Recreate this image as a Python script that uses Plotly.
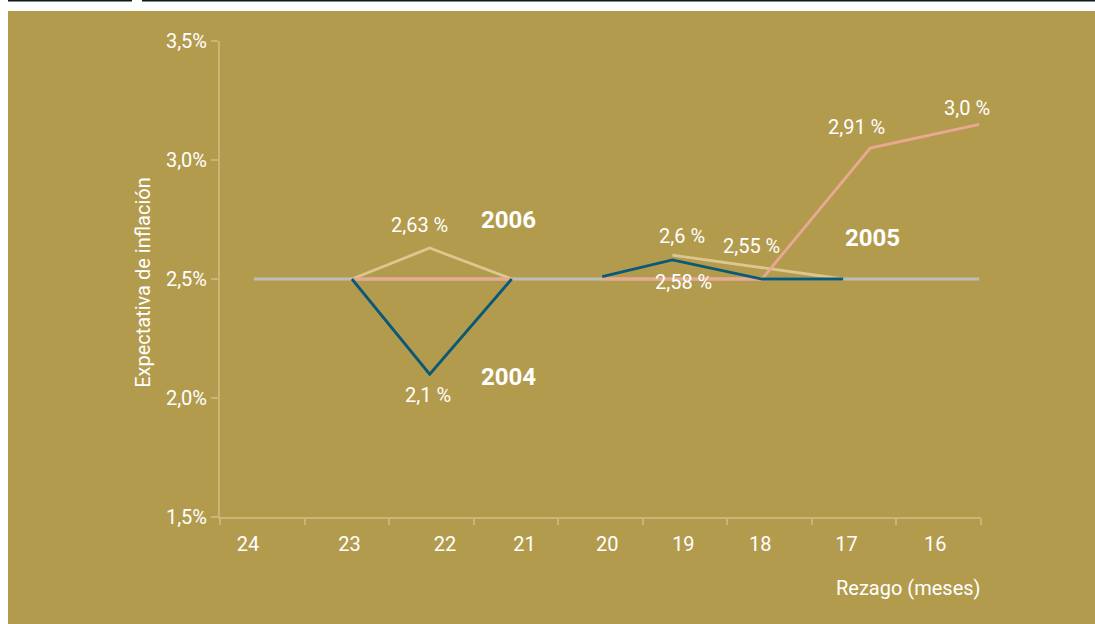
import plotly.graph_objects as go

# ---- data ----
# x = lag in months (axis reversed, 24 on the left), y = inflation expectation (%)
base_x = [24.1, 15.52]
base_y = [2.5, 2.5]

s2006_x = [22.94, 22.02, 21.05, None, 19.15, 17.13]
s2006_y = [2.5, 2.63, 2.5, None, 2.6, 2.5]

s2005_x = [22.94, 21.05, None, 19.98, 18.09, 16.81, 15.52]
s2005_y = [2.5, 2.5, None, 2.5, 2.5, 3.05, 3.15]

s2004_x = [22.94, 22.02, 21.05, None, 19.98, 19.15, 18.09, 17.13]
s2004_y = [2.5, 2.1, 2.5, None, 2.51, 2.58, 2.5, 2.5]

x_tick_labels = ["24", "23", "22", "21", "20", "19", "18", "17", "16"]
x_tick_pos = [24.17, 22.97, 21.84, 20.9, 19.92, 19.02, 18.11, 17.09, 16.04]
x_minor_ticks = [24.5, 23.5, 22.5, 21.5, 20.5, 19.5, 18.5, 17.5, 16.5, 15.5]
y_ticks = [1.5, 2.0, 2.5, 3.0, 3.5]
y_tick_labels = ["1,5%", "2,0%", "2,5%", "3,0%", "3,5%"]

value_labels = ["2,63 %", "2,1 %", "2,6 %", "2,55 %", "2,58 %", "2,91 %", "3,0 %"]
value_label_x = [22.135, 22.04, 19.04, 18.21, 19.02, 16.97, 15.67]
value_label_y = [2.727, 2.013, 2.68, 2.639, 2.487, 3.139, 3.218]

year_labels = ["2006", "2004", "2005"]
year_label_x = [21.09, 21.09, 16.78]
year_label_y = [2.748, 2.088, 2.672]

# ---- styles ----
BG = "#B39B4E"
AXIS = "#C8B677"
FONT = "Roboto, Liberation Sans, sans-serif"

fig = go.Figure()
fig.add_trace(go.Scatter(x=base_x, y=base_y, mode="lines",
                         line=dict(color="#BDBDB8", width=2.8), hoverinfo="skip"))
fig.add_trace(go.Scatter(x=s2006_x, y=s2006_y, mode="lines", name="2006",
                         line=dict(color="#DCC78E", width=2.8)))
fig.add_trace(go.Scatter(x=s2005_x, y=s2005_y, mode="lines", name="2005",
                         line=dict(color="#E8A892", width=2.8)))
fig.add_trace(go.Scatter(x=s2004_x, y=s2004_y, mode="lines", name="2004",
                         line=dict(color="#0B5878", width=2.8)))

annotations = []
for t, x, y in zip(value_labels, value_label_x, value_label_y):
    annotations.append(dict(x=x, y=y, xref="x", yref="y", text=t, showarrow=False,
                            font=dict(family=FONT, size=20, color="white"),
                            xanchor="center", yanchor="middle"))
for t, x, y in zip(year_labels, year_label_x, year_label_y):
    annotations.append(dict(x=x, y=y, xref="x", yref="y", text="<b>" + t + "</b>",
                            showarrow=False,
                            font=dict(family=FONT, size=24, color="white"),
                            xanchor="center", yanchor="middle"))
# axis titles
annotations.append(dict(x=-0.1005, y=0.493, xref="paper", yref="paper",
                        text="Expectativa de inflación", textangle=-90, showarrow=False,
                        font=dict(family=FONT, size=20, color="white"),
                        xanchor="center", yanchor="middle"))
annotations.append(dict(x=1.0026, y=-0.149, xref="paper", yref="paper",
                        text="Rezago (meses)", showarrow=False,
                        font=dict(family=FONT, size=20, color="white"),
                        xanchor="right", yanchor="middle"))

shapes = [
    # gold panel
    dict(type="rect", xref="paper", yref="paper", x0=-0.2786, x1=1.16, y0=-0.24, y1=1.063,
         fillcolor=BG, line=dict(width=0), layer="below"),
    # thin dark rule at the very top
    dict(type="line", xref="paper", yref="paper", x0=-0.2786, x1=-0.1156, y0=1.0851, y1=1.0851,
         line=dict(color="#0A1A1E", width=2)),
    dict(type="line", xref="paper", yref="paper", x0=-0.1025, x1=1.16, y0=1.0851, y1=1.0851,
         line=dict(color="#0A1A1E", width=2)),
]

fig.update_layout(
    width=1095, height=624,
    margin=dict(l=220, r=114, t=41, b=107),
    paper_bgcolor="white", plot_bgcolor="rgba(0,0,0,0)",
    showlegend=False,
    font=dict(family=FONT, size=20, color="white"),
    annotations=annotations, shapes=shapes,
    xaxis=dict(range=[24.5, 15.5], showgrid=False, zeroline=False,
               showline=True, linecolor=AXIS, linewidth=2,
               tickvals=x_tick_pos, ticktext=x_tick_labels, ticks="", ticklabelstandoff=8,
               tickfont=dict(family=FONT, size=20, color="white"),
               minor=dict(tickvals=x_minor_ticks, ticks="outside", ticklen=6,
                          tickwidth=2, tickcolor=AXIS, showgrid=False)),
    yaxis=dict(range=[1.5, 3.5], showgrid=False, zeroline=False,
               showline=True, linecolor=AXIS, linewidth=2,
               tickvals=y_ticks, ticktext=y_tick_labels,
               ticks="outside", ticklen=7, tickwidth=2, tickcolor=AXIS,
               tickfont=dict(family=FONT, size=20, color="white")),
)

fig.write_html("out.html",
               config={"displayModeBar": False},
               post_script="document.body.style.margin='0';"
                           "document.documentElement.style.overflow='hidden';")
